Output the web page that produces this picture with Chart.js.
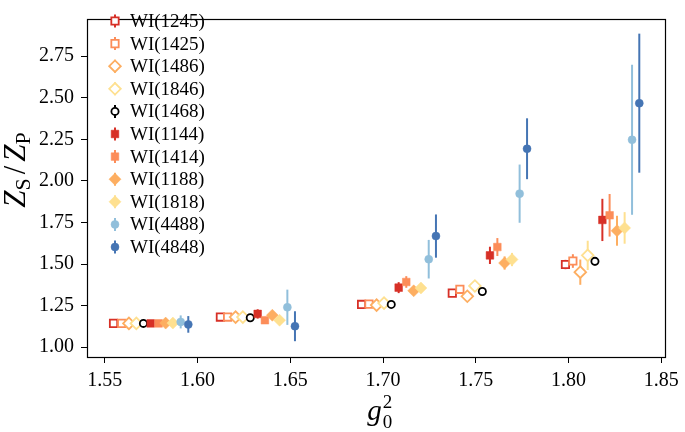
<!DOCTYPE html>
<html><head><meta charset="utf-8">
<script src="https://cdn.jsdelivr.net/npm/chart.js@4.4.1/dist/chart.umd.min.js"></script>
<style>html,body{margin:0;padding:0;background:#fff;}canvas{display:block;}</style>
</head><body>
<canvas id="c" width="685" height="432"></canvas>
<script>
// ---- data ----
const seriesLabels = ['WI(1245)','WI(1425)','WI(1486)','WI(1846)','WI(1468)','WI(1144)','WI(1414)','WI(1188)','WI(1818)','WI(4488)','WI(4848)'];
const xTickValues = [1.55, 1.60, 1.65, 1.70, 1.75, 1.80, 1.85];
const yTickValues = [1.00, 1.25, 1.50, 1.75, 2.00, 2.25, 2.50, 2.75];

const g0sq_1245 = [1.5547, 1.6123, 1.6884, 1.7373, 1.7983];
const zr_1245   = [1.143, 1.181, 1.257, 1.325, 1.497];
const err_1245  = [0.008, 0.010, 0.012, 0.018, 0.028];

const g0sq_1425 = [1.5591, 1.6162, 1.6924, 1.7414, 1.8023];
const zr_1425   = [1.143, 1.181, 1.259, 1.348, 1.518];
const err_1425  = [0.008, 0.010, 0.012, 0.020, 0.041];

const g0sq_1486 = [1.5630, 1.6205, 1.6965, 1.7454, 1.8063];
const zr_1486   = [1.143, 1.181, 1.253, 1.306, 1.451];
const err_1486  = [0.008, 0.010, 0.012, 0.020, 0.076];

const g0sq_1846 = [1.5670, 1.6244, 1.7005, 1.7495, 1.8103];
const zr_1846   = [1.143, 1.181, 1.265, 1.368, 1.552];
const err_1846  = [0.008, 0.010, 0.012, 0.020, 0.088];

const g0sq_1468 = [1.5708, 1.6284, 1.7044, 1.7535, 1.8142];
const zr_1468   = [1.143, 1.177, 1.257, 1.335, 1.516];
const err_1468  = [0.005, 0.006, 0.008, 0.010, 0.024];

const g0sq_1144 = [1.5747, 1.6324, 1.7084, 1.7576, 1.8182];
const zr_1144   = [1.143, 1.200, 1.358, 1.552, 1.765];
const err_1144  = [0.010, 0.028, 0.033, 0.052, 0.127];

const g0sq_1414 = [1.5790, 1.6363, 1.7125, 1.7616, 1.8221];
const zr_1414   = [1.143, 1.162, 1.392, 1.602, 1.793];
const err_1414  = [0.010, 0.020, 0.035, 0.054, 0.128];

const g0sq_1188 = [1.5828, 1.6403, 1.7165, 1.7655, 1.8261];
const zr_1188   = [1.145, 1.192, 1.339, 1.506, 1.700];
const err_1188  = [0.010, 0.015, 0.020, 0.040, 0.090];

const g0sq_1818 = [1.5867, 1.6442, 1.7204, 1.7695, 1.8302];
const zr_1818   = [1.145, 1.162, 1.356, 1.527, 1.717];
const err_1818  = [0.010, 0.015, 0.020, 0.040, 0.095];

const g0sq_4488 = [1.5909, 1.6484, 1.7246, 1.7736, 1.8342];
const zr_4488   = [1.152, 1.240, 1.529, 1.923, 2.247];
const err_4488  = [0.039, 0.106, 0.116, 0.175, 0.451];

const g0sq_4848 = [1.5950, 1.6525, 1.7285, 1.7776, 1.8381];
const zr_4848   = [1.137, 1.126, 1.668, 2.193, 2.467];
const err_4848  = [0.050, 0.090, 0.130, 0.183, 0.418];

const seriesX = [g0sq_1245, g0sq_1425, g0sq_1486, g0sq_1846, g0sq_1468, g0sq_1144, g0sq_1414, g0sq_1188, g0sq_1818, g0sq_4488, g0sq_4848];
const seriesY = [zr_1245, zr_1425, zr_1486, zr_1846, zr_1468, zr_1144, zr_1414, zr_1188, zr_1818, zr_4488, zr_4848];
const seriesE = [err_1245, err_1425, err_1486, err_1846, err_1468, err_1144, err_1414, err_1188, err_1818, err_4488, err_4848];

// ---- styles ----
const RED='#d73027', ORG='#fc8d59', LOR='#fdae61', YEL='#fee090', LBL='#91bfdb', BLU='#4575b4';
const styles = [
  {c:RED, s:'rect',    open:true,  r:5.2},
  {c:ORG, s:'rect',    open:true,  r:5.2},
  {c:LOR, s:'rectRot', open:true,  r:5.8},
  {c:YEL, s:'rectRot', open:true,  r:5.8},
  {c:'#000000', s:'circle', open:true, r:3.6},
  {c:RED, s:'rect',    open:false, r:5.4},
  {c:ORG, s:'rect',    open:false, r:5.4},
  {c:LOR, s:'rectRot', open:false, r:6.0},
  {c:YEL, s:'rectRot', open:false, r:6.0},
  {c:LBL, s:'circle',  open:false, r:4.0},
  {c:BLU, s:'circle',  open:false, r:4.0}
];
const SERIF = '"Liberation Serif", "DejaVu Serif", serif';

const datasets = seriesLabels.map((lab, i) => ({
  label: lab,
  data: seriesX[i].map((x, k) => ({x: x, y: seriesY[i][k]})),
  showLine: false,
  order: seriesLabels.length - i,
  pointStyle: styles[i].s,
  pointRadius: styles[i].r,
  pointHoverRadius: styles[i].r,
  pointBackgroundColor: styles[i].open ? '#ffffff' : styles[i].c,
  pointBorderColor: styles[i].c,
  pointBorderWidth: styles[i].open ? 1.8 : 0.5,
  backgroundColor: styles[i].c,
  borderColor: styles[i].c
}));

const errPlugin = {
  id: 'errbars',
  beforeDatasetDraw(chart, args) {
    const i = args.index;
    const ctx = chart.ctx, xs = chart.scales.x, ys = chart.scales.y;
    ctx.save();
    ctx.strokeStyle = styles[i].c;
    ctx.lineWidth = 2;
    for (let k = 0; k < seriesX[i].length; k++) {
      const px = xs.getPixelForValue(seriesX[i][k]);
      ctx.beginPath();
      ctx.moveTo(px, ys.getPixelForValue(seriesY[i][k] - seriesE[i][k]));
      ctx.lineTo(px, ys.getPixelForValue(seriesY[i][k] + seriesE[i][k]));
      ctx.stroke();
    }
    ctx.restore();
  }
};

function drawPieces(ctx, pieces, cx, baseline) {
  let total = 0;
  pieces.forEach(p => { ctx.font = p.f; p.w = ctx.measureText(p.t).width + (p.gap || 0); total += p.w; });
  let x = cx - total / 2;
  pieces.forEach(p => {
    ctx.font = p.f;
    ctx.fillText(p.t, x + (p.pre || 0), baseline + (p.dy || 0));
    x += p.w;
  });
}

const decoPlugin = {
  id: 'deco',
  afterDraw(chart) {
    const ctx = chart.ctx, a = chart.chartArea;
    ctx.save();
    // frame
    ctx.strokeStyle = '#000';
    ctx.lineWidth = 1.2;
    ctx.strokeRect(Math.round(a.left) + 0.5, Math.round(a.top) + 0.5, Math.round(a.right - a.left), Math.round(a.bottom - a.top));
    // legend
    ctx.textBaseline = 'middle';
    ctx.textAlign = 'left';
    seriesLabels.forEach((lab, i) => {
      const y = 21 + 22.6 * i, x = 115;
      const st = styles[i];
      ctx.strokeStyle = st.c; ctx.lineWidth = 2;
      ctx.beginPath(); ctx.moveTo(x, y - 6.5); ctx.lineTo(x, y + 6.5); ctx.stroke();
      ctx.fillStyle = st.open ? '#ffffff' : st.c;
      ctx.strokeStyle = st.c;
      ctx.lineWidth = st.open ? 1.8 : 0.5;
      Chart.helpers.drawPoint(ctx, {pointStyle: st.s, radius: st.r, rotation: 0, borderWidth: ctx.lineWidth}, x, y);
      ctx.fillStyle = '#000';
      ctx.font = '19px ' + SERIF;
      ctx.fillText(lab, 130, y + 1);
    });
    // axis titles
    ctx.fillStyle = '#000';
    ctx.textAlign = 'left';
    ctx.textBaseline = 'alphabetic';
    // x title g_0^2
    const xc = (a.left + a.right) / 2;
    ctx.font = 'italic 29px ' + SERIF;
    const gw = ctx.measureText('g').width;
    const gx = xc - 9;
    ctx.fillText('g', gx, 420);
    ctx.font = '19px ' + SERIF;
    ctx.fillText('2', gx + gw + 1, 408);
    ctx.fillText('0', gx + gw + 1, 428);
    // y title Z_S/Z_P
    ctx.translate(25, 170);
    ctx.rotate(-Math.PI / 2);
    drawPieces(ctx, [
      {t:'Z', f:'italic 31px ' + SERIF, gap: 0},
      {t:'S', f:'22px ' + SERIF, dy: 5, gap: 4},
      {t:'/', f:'31px ' + SERIF, gap: 4},
      {t:'Z', f:'italic 31px ' + SERIF},
      {t:'P', f:'22px ' + SERIF, dy: 5}
    ], 0, 0);
    ctx.restore();
  }
};

new Chart(document.getElementById('c'), {
  type: 'scatter',
  data: {datasets},
  options: {
    responsive: false,
    animation: false,
    devicePixelRatio: 1,
    layout: {padding: {left: 0, right: 19, top: 2, bottom: 0}},
    plugins: {legend: {display: false}, tooltip: {enabled: false}},
    scales: {
      x: {
        type: 'linear', min: 1.5404, max: 1.8522,
        afterFit(s) { s.height = 75; },
        afterBuildTicks(s) { s.ticks = xTickValues.map(v => ({value: v})); },
        grid: {display: true, drawOnChartArea: false, drawTicks: true, tickLength: 6, tickColor: '#000', tickWidth: 1},
        border: {display: false},
        ticks: {color: '#000', padding: 6, maxRotation: 0, font: {family: SERIF, size: 20}, callback: v => v.toFixed(2)}
      },
      y: {
        type: 'linear', min: 0.941, max: 2.973,
        afterFit(s) { s.width = 87; },
        afterBuildTicks(s) { s.ticks = yTickValues.map(v => ({value: v})); },
        grid: {display: true, drawOnChartArea: false, drawTicks: true, tickLength: 6, tickColor: '#000', tickWidth: 1},
        border: {display: false},
        ticks: {color: '#000', padding: 7, font: {family: SERIF, size: 20}, callback: v => v.toFixed(2)}
      }
    }
  },
  plugins: [errPlugin, decoPlugin]
});
</script>
</body></html>
